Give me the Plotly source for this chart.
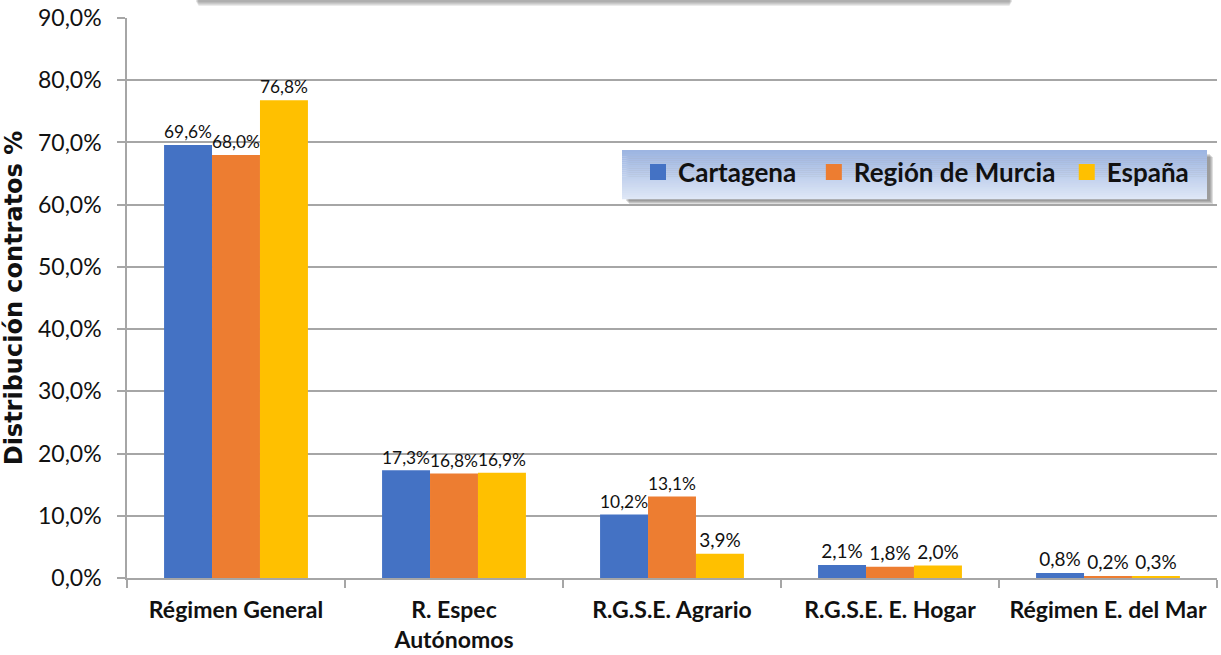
import plotly.graph_objects as go

categories = ["Régimen General", "R. Espec<br>Autónomos", "R.G.S.E. Agrario",
              "R.G.S.E. E. Hogar", "Régimen E. del Mar"]
series_names = ["Cartagena", "Región de Murcia", "España"]
cartagena = [69.6, 17.3, 10.2, 2.1, 0.8]
murcia = [68.0, 16.8, 13.1, 1.8, 0.2]
espana = [76.8, 16.9, 3.9, 2.0, 0.3]
colors = ["#4472C4", "#ED7D31", "#FFC000"]
y_ticks = [0, 10, 20, 30, 40, 50, 60, 70, 80, 90]
y_tick_text = [f"{v:.1f}%".replace(".", ",") for v in y_ticks]

FONT = "Lato, Carlito, 'Liberation Sans', sans-serif"
TITLE_FONT = "'DejaVu Sans', 'Noto Sans', sans-serif"
legend_pad = {"Cartagena": "\u00a0\u00a0", "Región de Murcia": "\u00a0", "España": ""}

fig = go.Figure()
for name, vals, col in zip(series_names, [cartagena, murcia, espana], colors):
    fig.add_trace(go.Bar(
        x=categories, y=vals, name=name, marker_color=col, marker_line_width=0,
        text=[f"{v:.1f}%".replace(".", ",") for v in vals],
        textposition="outside", cliponaxis=False, showlegend=False,
        textfont=dict(size=19, color="#111111", family=FONT),
    ))
    # legend entry with a larger square symbol
    fig.add_trace(go.Scatter(
        x=[None], y=[None], mode="markers", name=name + legend_pad[name],
        marker=dict(symbol="square", size=16, color=col), showlegend=True,
    ))

# body margin removed via post_script, so figure coords = screen coords
W, H = 1221, 655
L, R, T, B = 127, 4, 18, 77
pw, ph = W - L - R, H - T - B

def px_x(x):
    return (x - L) / pw

def px_y(y):
    return (H - B - y) / ph

shapes = []
# top (cut-off) title box shadow
for i in range(5):
    shapes.append(dict(type="rect", xref="paper", yref="paper",
                       x0=px_x(196 + i * 0.6), x1=px_x(1012 - i * 0.6),
                       y0=px_y(2 + i), y1=px_y(-2),
                       fillcolor="rgba(90,90,90,0.12)", line_width=0, layer="above"))
# legend shadow
for i in range(4):
    shapes.append(dict(type="rect", xref="paper", yref="paper",
                       x0=px_x(626 + i), x1=px_x(1210 + i),
                       y0=px_y(201 + i), y1=px_y(154 + i),
                       fillcolor="rgba(80,80,80,0.18)", line_width=0, layer="above"))
# legend gradient background
n = 24
top_c = (157, 181, 226)
bot_c = (222, 231, 246)
y_top, y_bot = 150, 199
for i in range(n):
    t = i / (n - 1)
    c = tuple(int(top_c[k] + (bot_c[k] - top_c[k]) * t) for k in range(3))
    ya = y_top + (y_bot - y_top) * i / n
    yb = y_top + (y_bot - y_top) * (i + 1) / n
    shapes.append(dict(type="rect", xref="paper", yref="paper",
                       x0=px_x(622), x1=px_x(1207), y0=px_y(yb + 0.3), y1=px_y(ya),
                       fillcolor=f"rgb{c}", line_width=0, layer="above"))

fig.update_layout(
    width=W, height=H,
    margin=dict(l=L, r=R, t=T, b=B),
    paper_bgcolor="white", plot_bgcolor="white",
    barmode="group", bargap=0.34, bargroupgap=0,
    separators=",.",
    font=dict(family=FONT, color="#111111"),
    shapes=shapes,
    showlegend=True,
    legend=dict(orientation="h", x=px_x(638), y=px_y(172), xanchor="left", yanchor="middle",
                bgcolor="rgba(0,0,0,0)", borderwidth=0,
                font=dict(size=26, family=FONT, color="#111111", weight="bold"),
                itemwidth=30, traceorder="normal"),
    xaxis=dict(
        automargin=False,
        showline=True, linecolor="#a6a6a6", linewidth=1.5,
        ticks="outside", tickson="boundaries", ticklen=8, tickcolor="#a6a6a6", tickwidth=1.5,
        ticklabelstandoff=11,
        tickfont=dict(size=23, family=FONT, color="#111111", weight="bold"),
        showgrid=False,
    ),
    yaxis=dict(
        automargin=False,
        range=[0, 90], tickvals=y_ticks, ticktext=y_tick_text,
        ticklabeloverflow="allow",
        showline=True, linecolor="#a6a6a6", linewidth=1.5,
        ticks="outside", ticklen=8, tickcolor="#a6a6a6", tickwidth=1.5,
        ticklabelstandoff=11,
        showgrid=True, gridcolor="#a6a6a6", gridwidth=1.5,
        zeroline=False,
        tickfont=dict(size=23, family=FONT, color="#111111"),
        title=dict(text="Distribución contratos %", standoff=10,
                   font=dict(size=24, family=TITLE_FONT, color="#111111", weight="bold")),
    ),
)

fig.write_html("out.html", config={"displayModeBar": False},
               post_script="document.body.style.margin='0';document.body.style.overflow='hidden';")
